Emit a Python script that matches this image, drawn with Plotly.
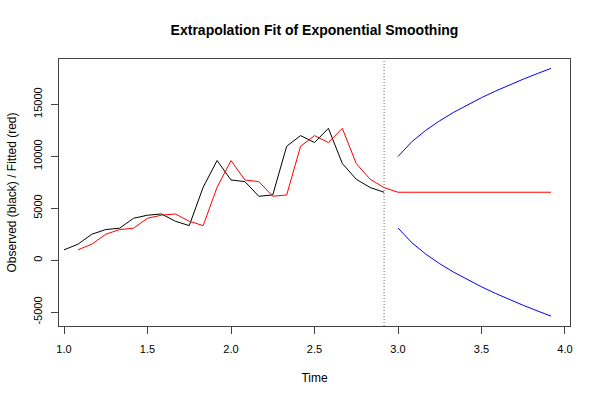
import plotly.graph_objects as go

# ---- data ----
start_time = 1.0
freq = 12
observed = [1000, 1540, 2500, 2950, 3080, 4040, 4330, 4450, 3750, 3330, 7020, 9590,
            7720, 7560, 6150, 6280, 10960, 11990, 11320, 12690, 9300, 7790, 6990, 6540]
fitted = [1000, 1540, 2500, 2950, 3080, 4040, 4330, 4450, 3750, 3330, 7020,
          9590, 7720, 7560, 6150, 6280, 10960, 11990, 11320, 12690, 9300, 7790, 6990]
forecast = [6540, 6540, 6540, 6540, 6540, 6540, 6540, 6540, 6540, 6540, 6540, 6540]
upper = [9980, 11410, 12500, 13420, 14230, 14970, 15640, 16270, 16860, 17420, 17950, 18460]
lower = [3100, 1680, 580, -340, -1150, -1890, -2560, -3190, -3780, -4340, -4870, -5380]
x_ticks = [1.0, 1.5, 2.0, 2.5, 3.0, 3.5, 4.0]
x_tick_labels = ["1.0", "1.5", "2.0", "2.5", "3.0", "3.5", "4.0"]
y_ticks = [-5000, 0, 5000, 10000, 15000]
y_tick_labels = ["-5000", "0", "5000", "10000", "15000"]

n_obs = len(observed)
t_obs = [start_time + i / freq for i in range(n_obs)]
t_fit = t_obs[1:]
t_fc = [start_time + (n_obs + k) / freq for k in range(len(forecast))]

FONT = "Liberation Sans, Arial, Helvetica, sans-serif"

fig = go.Figure()
fig.add_trace(go.Scatter(x=t_obs, y=observed, mode="lines",
                         line=dict(color="black", width=1), showlegend=False))
fig.add_trace(go.Scatter(x=t_fit + t_fc, y=fitted + forecast, mode="lines",
                         line=dict(color="red", width=1), showlegend=False))
fig.add_trace(go.Scatter(x=t_fc, y=upper, mode="lines",
                         line=dict(color="blue", width=1), showlegend=False))
fig.add_trace(go.Scatter(x=t_fc, y=lower, mode="lines",
                         line=dict(color="blue", width=1), showlegend=False))
fig.add_vline(x=t_obs[-1], line=dict(color="#666", width=1, dash="1px,2px"))

fig.update_layout(
    width=600, height=400,
    margin=dict(l=59, r=30, t=59, b=74, autoexpand=False),
    paper_bgcolor="white", plot_bgcolor="white",
    font=dict(family=FONT, size=11, color="black"),
    title=dict(text="<b>Extrapolation Fit of Exponential Smoothing</b>",
               font=dict(size=14, family=FONT, color="black"),
               x=0.5, xref="paper", xanchor="center",
               y=1 - 30 / 400, yref="container", yanchor="middle"),
    xaxis=dict(range=[0.97, 4.03], tickvals=x_ticks, ticktext=x_tick_labels,
               automargin=False,
               showgrid=False, zeroline=False, showline=True, mirror=True,
               linecolor="#444", linewidth=1, ticks="outside", ticklen=7,
               tickcolor="#444", ticklabelstandoff=6,
               title=dict(text="Time", font=dict(size=12), standoff=19)),
    yaxis=dict(range=[-6330, 19360], tickvals=y_ticks, ticktext=y_tick_labels,
               tickangle=-90, automargin=False,
               showgrid=False, zeroline=False, showline=True, mirror=True,
               linecolor="#444", linewidth=1, ticks="outside", ticklen=7,
               tickcolor="#444", ticklabelstandoff=5,
               title=dict(text="Observed (black) / Fitted (red)", font=dict(size=12),
                          standoff=12)),
)

fig.write_html("out.html",
               config={"displayModeBar": False},
               post_script="document.body.style.margin='0';document.body.style.padding='0';")
